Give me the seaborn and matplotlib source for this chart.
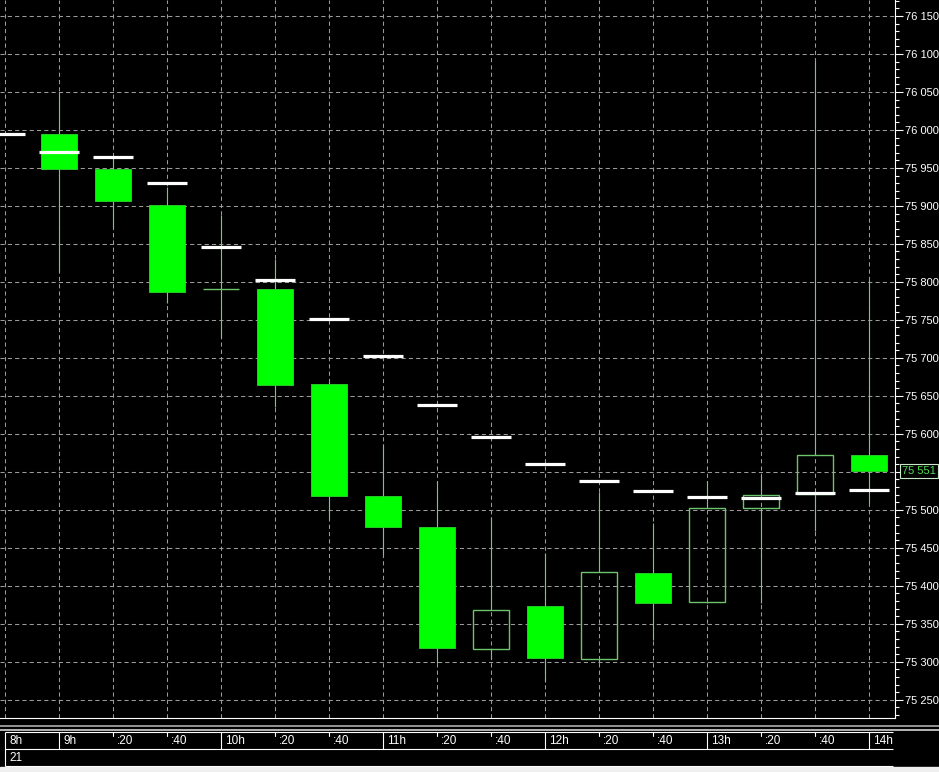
import numpy as np
import matplotlib
matplotlib.use('Agg')
import matplotlib.pyplot as plt
import matplotlib.transforms as mtransforms
from matplotlib.ticker import MultipleLocator, FuncFormatter
import seaborn as sns
import pandas as pd

# 20-minute candles, day 21
times = ['8:40', '9:00', '9:20', '9:40', '10:00', '10:20', '10:40', '11:00', '11:20',
         '11:40', '12:00', '12:20', '12:40', '13:00', '13:20', '13:40', '14:00']
time_labels = ['8h', '9h', ':20', ':40', '10h', ':20', ':40', '11h', ':20',
               ':40', '12h', ':20', ':40', '13h', ':20', ':40', '14h']
opens = [np.nan, 75995, 75949, 75901, 75790, 75790, 75666, 75518, 75477,
         75317, 75374, 75304, 75417, 75379, 75502, 75521, 75572]
highs = [np.nan, 76050, 75963, 75925, 75888, 75830, 75668, 75587, 75538,
         75490, 75443, 75523, 75482, 75538, 75546, 76091, 75802]
lows = [np.nan, 75813, 75871, 75772, 75726, 75635, 75488, 75441, 75299,
        75303, 75274, 75299, 75329, 75378, 75377, 75472, 75509]
closes = [np.nan, 75949, 75907, 75787, 75790, 75664, 75518, 75477, 75318,
          75368, 75305, 75418, 75377, 75502, 75519, 75572, 75551]
ma = [75995, 75971, 75964, 75930, 75846, 75802, 75751, 75703, 75638,
      75596, 75560, 75538, 75525, 75517, 75515, 75522, 75526]
last_price = 75551
date_label = '21'

sns.set_theme(style='dark', rc={'axes.facecolor': 'black', 'figure.facecolor': 'black'})
plt.rcParams['font.family'] = ['Liberation Sans', 'DejaVu Sans']

df = pd.DataFrame({'time': times, 'open': opens, 'high': highs, 'low': lows,
                   'close': closes, 'ma': ma})
df['pos'] = np.arange(len(df))

W, H = 939, 772
fig = plt.figure(figsize=(W / 100, H / 100), dpi=100)
fig.patch.set_facecolor('black')
ax = fig.add_axes([0, 54 / H, 895 / W, 718 / H])
ax.set_facecolor('black')

# grid
ax.set_axisbelow(True)
ax.set_xticks(df['pos'])
ax.tick_params(axis='x', length=0, labelbottom=False, bottom=False)
ax.grid(True, which='major', color='#9b9b9b', linestyle=(0, (4, 3)), linewidth=0.75)

# candles
c = df.dropna(subset=['open'])
up = c[c['close'] >= c['open']]
down = c[c['close'] < c['open']]
top = np.maximum(c['open'], c['close'])
bot = np.minimum(c['open'], c['close'])
wick_col = '#6fcf6f'
ax.vlines(c['pos'], top, c['high'], color=wick_col, linewidth=0.8, zorder=2)
ax.vlines(c['pos'], c['low'], bot, color=wick_col, linewidth=0.8, zorder=2)
ax.bar(down['pos'], down['open'] - down['close'], bottom=down['close'], width=0.685,
       color='#00ff00', edgecolor='#2fd42f', linewidth=0.6, zorder=3)
ax.bar(up['pos'], up['close'] - up['open'], bottom=up['open'], width=0.685,
       color='none', edgecolor='#6cc46c', linewidth=1.0, zorder=3)

# moving average dashes
sns.scatterplot(data=df, x='pos', y='ma', marker='_', s=830, color='white',
                linewidth=2.3, ax=ax, zorder=5, legend=False)

ax.set_xlim(-5 / 54, 890 / 54)
ax.set_ylim(75226, 76171)
ax.set_xlabel('')
ax.set_ylabel('')

# right price axis
ax.yaxis.tick_right()
ax.yaxis.set_major_locator(MultipleLocator(50))
ax.yaxis.set_minor_locator(MultipleLocator(10))
fmt = lambda v, _: f"{int(round(v)) // 1000} {int(round(v)) % 1000:03d}"
ax.yaxis.set_major_formatter(FuncFormatter(fmt))
ax.tick_params(axis='y', which='major', direction='out', length=6, width=0.8,
               colors='white', labelsize=8, pad=1, right=True, left=False)
ax.tick_params(axis='y', which='minor', direction='out', length=3, width=0.8,
               color='white', right=True, left=False)
for s in ['left', 'top']:
    ax.spines[s].set_visible(False)
for s in ['right', 'bottom']:
    ax.spines[s].set_color('white')
    ax.spines[s].set_linewidth(0.8)

# last price tag
tag_tr = mtransforms.blended_transform_factory(ax.transAxes, ax.transData)
ax.text(1 + 7 / 895, last_price, fmt(last_price, None), transform=tag_tr,
        ha='left', va='center', color='#4ddf4d', fontsize=8, clip_on=False,
        bbox=dict(boxstyle='square,pad=0.15', fc='black', ec='#c8e6c8', lw=0.8))

# time bar at the bottom
bax = fig.add_axes([0, 0, 1, 54 / H])
bax.set_xlim(0, W)
bax.set_ylim(H, 718)
bax.set_axis_off()
bax.axhspan(767, H, color='#efefef', zorder=0)
bax.hlines([725.5, 729.5], 0, W, colors=['#bdbdbd', '#e6e6e6'], linewidth=1.1)
bax.hlines([732, 749, 766], 5, 893, colors='white', linewidth=0.8)
bax.vlines(5, 732, 766, colors='white', linewidth=0.8)

sep_tr = mtransforms.blended_transform_factory(ax.transData, bax.transData)
lab_tr = mtransforms.offset_copy(sep_tr, fig=fig, x=4, y=0, units='dots')
for p, lab in zip(df['pos'], time_labels):
    if p > 0:
        if lab.endswith('h'):
            bax.plot([p, p], [732, 749], color='white', linewidth=0.8, transform=sep_tr)
        else:
            bax.plot([p, p], [732, 736], color='white', linewidth=0.8, transform=sep_tr)
    bax.text(p, 741, lab, transform=lab_tr, color='white', fontsize=8.5,
             ha='left', va='center')
bax.text(0, 758, date_label, transform=lab_tr, color='white', fontsize=8.5,
         ha='left', va='center')

fig.savefig('out.png', dpi=100, facecolor='black')
